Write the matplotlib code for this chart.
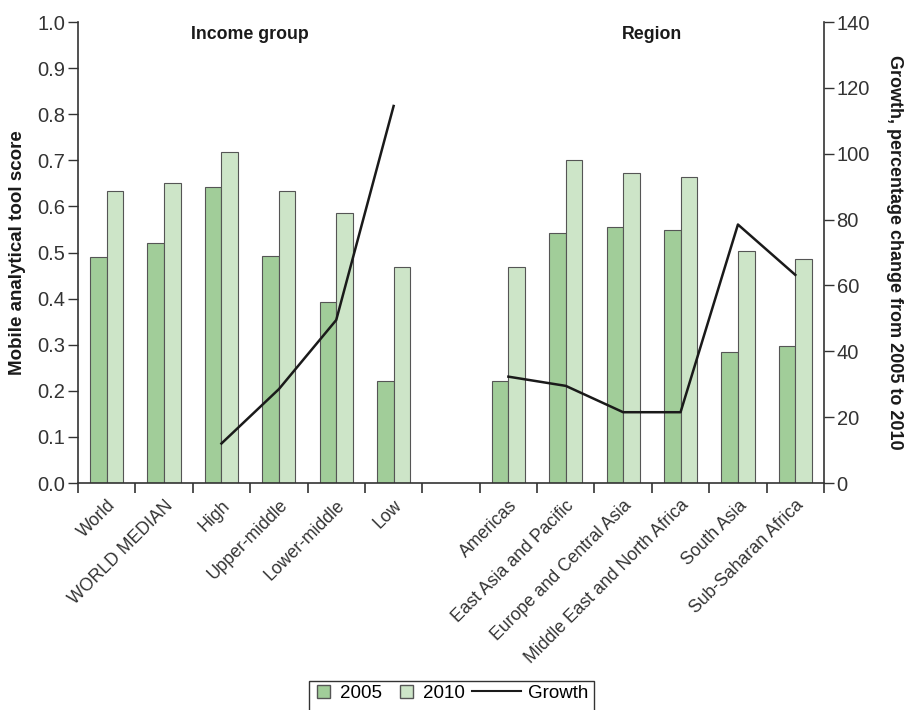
import matplotlib
matplotlib.use("Agg")
import matplotlib.pyplot as plt
import numpy as np
from matplotlib.patches import Patch, Rectangle
from matplotlib.lines import Line2D

plt.rcParams['font.family'] = ['Liberation Sans', 'DejaVu Sans']

categories = ["World", "WORLD MEDIAN", "High", "Upper-middle", "Lower-middle", "Low", "",
              "Americas", "East Asia and Pacific", "Europe and Central Asia",
              "Middle East and North Africa", "South Asia", "Sub-Saharan Africa"]
score_2005 = [0.490, 0.521, 0.642, 0.492, 0.392, 0.221, None,
              0.221, 0.543, 0.555, 0.548, 0.284, 0.297]
score_2010 = [0.633, 0.650, 0.718, 0.633, 0.586, 0.469, None,
              0.469, 0.700, 0.673, 0.664, 0.503, 0.485]
growth_income = [12.0, 28.5, 49.5, 114.5]      # High, Upper-middle, Lower-middle, Low
growth_region = [32.3, 29.5, 21.5, 21.5, 78.5, 63.2]
group_titles = ["Income group", "Region"]

c2005 = "#a1cd99"
c2010 = "#cde5c8"
edge = "#555555"
dark = "#1a1a1a"

fig = plt.figure(figsize=(9.08, 7.10), dpi=100)
ax = fig.add_axes([0.0859, 0.3197, 0.8216, 0.6493])
ax2 = ax.twinx()

x = np.arange(len(categories))
w = 0.29
for i in range(len(categories)):
    if score_2005[i] is None:
        continue
    ax.bar(x[i] - w / 2, score_2005[i], width=w, color=c2005, edgecolor=edge, linewidth=0.8)
    ax.bar(x[i] + w / 2, score_2010[i], width=w, color=c2010, edgecolor=edge, linewidth=0.8)

ax2.plot(x[2:6], growth_income, color=dark, lw=1.8)
ax2.plot(x[7:13], growth_region, color=dark, lw=1.8)

ax.set_xlim(-0.5, len(categories) - 0.5)
ax.set_ylim(0, 1.0)
ax2.set_ylim(0, 140)

ax.set_yticks(np.arange(0, 1.01, 0.1))
ax.set_yticklabels([f"{v:.1f}" for v in np.arange(0, 1.01, 0.1)])
ax2.set_yticks(np.arange(0, 141, 20))

ax.set_xticks(x)
ax.set_xticklabels(categories, rotation=45, ha="right", rotation_mode="anchor", fontsize=12.7, color="#333333")
ax.tick_params(axis="x", length=0, pad=10)
ax.set_xticks(np.arange(-0.5, len(categories), 1.0), minor=True)
ax.tick_params(axis="x", which="minor", length=7, width=1.2, direction="out", color="#333333")

ax.tick_params(axis="y", length=7, width=1.0, labelsize=14.5, colors="#333333", pad=2)
ax2.tick_params(axis="y", length=7, width=1.0, labelsize=14.5, colors="#333333", pad=2)

for a in (ax, ax2):
    a.spines["top"].set_visible(False)
    for s in ("left", "right", "bottom"):
        a.spines[s].set_color("#333333")
        a.spines[s].set_linewidth(1.2)
ax.spines["right"].set_visible(False)
ax2.spines["left"].set_visible(False)
ax2.spines["bottom"].set_visible(False)

ax.set_ylabel("Mobile analytical tool score", fontsize=13.5, fontweight="bold", color=dark, labelpad=8)
ax2.set_ylabel("Growth, percentage change from 2005 to 2010", fontsize=13, fontweight="bold",
               color=dark, rotation=-90, labelpad=24)

ax.text(2.5, 0.972, group_titles[0], ha="center", va="center", fontsize=12.8, fontweight="bold", color=dark)
ax.text(9.5, 0.972, group_titles[1], ha="center", va="center", fontsize=12.8, fontweight="bold", color=dark)

# legend: two parts placed side by side inside one frame
fs = 13.5
h1 = [Patch(facecolor=c2005, edgecolor=edge, label="2005"),
      Patch(facecolor=c2010, edgecolor=edge, label="2010")]
h2 = [Line2D([0], [0], color=dark, lw=1.5, label="Growth")]
y_anchor = 0.005
leg1 = fig.legend(handles=h1, loc="lower left", bbox_to_anchor=(0.344, y_anchor), ncol=2, frameon=False,
                  fontsize=fs, handlelength=0.7, handleheight=0.7, handletextpad=0.5,
                  columnspacing=1.0, borderpad=0.25, borderaxespad=0)
leg2 = fig.legend(handles=h2, loc="lower left", bbox_to_anchor=(0.5, y_anchor), frameon=False,
                  fontsize=fs, handlelength=2.6, handletextpad=0.4, borderpad=0.25, borderaxespad=0)
fig.canvas.draw()
r = fig.canvas.get_renderer()
inv = fig.transFigure.inverted()
bb1 = leg1.get_window_extent(r).transformed(inv)
leg2.set_bbox_to_anchor((bb1.x1 - 0.002, y_anchor), transform=fig.transFigure)
fig.canvas.draw()
bb2 = leg2.get_window_extent(r).transformed(inv)
frame = Rectangle((bb1.x0 - 0.004, bb1.y0 - 0.06), bb2.x1 - bb1.x0 + 0.004, bb1.y1 - bb1.y0 + 0.058,
                  transform=fig.transFigure, fill=False, edgecolor="#333333", lw=1.0, clip_on=False)
fig.patches.append(frame)

fig.savefig("out.png", dpi=100)
